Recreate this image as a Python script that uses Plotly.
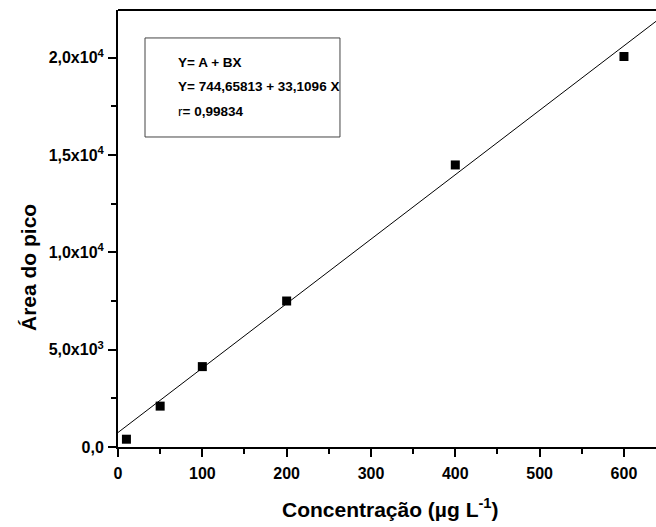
import plotly.graph_objects as go

# Data
conc = [10, 50, 100, 200, 400, 600]
area = [400, 2100, 4130, 7500, 14490, 20060]

# Linear fit parameters shown in the chart
A = 744.65813
B = 33.1096
r = 0.99834
x_fit = [0, 640]
y_fit = [A + B * x for x in x_fit]

x_ticks = [0, 100, 200, 300, 400, 500, 600]
y_ticks = [0, 5000, 10000, 15000, 20000]
y_ticktext = ["0,0", "5,0x10<sup>3</sup>", "1,0x10<sup>4</sup>", "1,5x10<sup>4</sup>", "2,0x10<sup>4</sup>"]

FONT = "Liberation Sans, Arial, sans-serif"

fig = go.Figure()
fig.add_trace(go.Scatter(x=x_fit, y=y_fit, mode="lines",
                         line=dict(color="black", width=1), hoverinfo="skip"))
fig.add_trace(go.Scatter(x=conc, y=area, mode="markers",
                         marker=dict(symbol="square", size=9, color="black")))

fig.update_layout(
    width=656, height=527,
    margin=dict(l=118, r=0, t=10, b=80),
    plot_bgcolor="white", paper_bgcolor="white",
    showlegend=False,
    font=dict(family=FONT, color="black", size=14),
    xaxis=dict(
        range=[0, 638], tickvals=x_ticks, ticktext=[str(v) for v in x_ticks],
        ticks="outside", ticklen=8, tickwidth=1.5, tickcolor="black",
        minor=dict(ticks="outside", ticklen=5, tickwidth=1.5, tickcolor="black", dtick=50, tick0=0),
        showline=True, linewidth=2, linecolor="black",
        showgrid=False, zeroline=False, ticklabelstandoff=3,
        tickfont=dict(size=16, family=FONT, color="black", weight="bold"),
    ),
    yaxis=dict(
        range=[0, 22450], tickvals=y_ticks, ticktext=y_ticktext,
        ticks="outside", ticklen=8, tickwidth=1.5, tickcolor="black",
        minor=dict(ticks="outside", ticklen=5, tickwidth=1.5, tickcolor="black", dtick=2500, tick0=0),
        showline=True, linewidth=2, linecolor="black",
        showgrid=False, zeroline=False, ticklabelstandoff=1,
        tickfont=dict(size=16, family=FONT, color="black", weight="bold"),
    ),
    shapes=[
        dict(type="line", xref="paper", yref="paper", x0=0, x1=1, y0=1, y1=1,
             line=dict(color="black", width=2)),
        dict(type="rect", xref="paper", yref="paper", x0=0.0502, x1=0.4126, y0=0.7094, y1=0.936,
             line=dict(color="#444444", width=1), fillcolor="rgba(0,0,0,0)"),
    ],
)

texts = ["Y= A + BX",
         f"Y= {A:.5f} + {B:.4f} X".replace(".", ","),
         f"<span style='font-weight:normal'>r</span>= {r:.5f}".replace(".", ",")]
ys = [0.881, 0.8238, 0.7666]
for t, yy in zip(texts, ys):
    fig.add_annotation(text=t, xref="paper", yref="paper", x=0.1078, y=yy,
                       xanchor="left", yanchor="middle", showarrow=False,
                       font=dict(size=13.5, family=FONT, color="black", weight="bold"))

fig.add_annotation(text="Concentração (µg L<sup>-1</sup>)", xref="paper", yref="paper",
                   x=(390 - 118) / 538, y=(447 - 508) / 437, xanchor="center", yanchor="middle",
                   showarrow=False, font=dict(size=21, family=FONT, color="black", weight="bold"))
fig.add_annotation(text="Área do pico", xref="paper", yref="paper",
                   x=(28 - 118) / 538, y=(447 - 268) / 437, xanchor="center", yanchor="middle",
                   textangle=-90, showarrow=False, font=dict(size=21, family=FONT, color="black", weight="bold"))

fig.write_html("out.html")
